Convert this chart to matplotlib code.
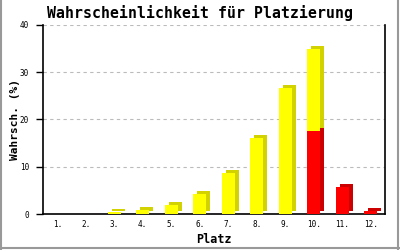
import numpy as np
import matplotlib
matplotlib.use('Agg')
import matplotlib.pyplot as plt
import matplotlib.transforms as mtrans
from matplotlib.lines import Line2D

# data
places = ['1.', '2.', '3.', '4.', '5.', '6.', '7.', '8.', '9.', '10.', '11.', '12.']
red    = [0, 0, 0, 0, 0, 0, 0, 0, 0, 17.6, 5.7, 0.6]
yellow = [0, 0.1, 0.36, 0.85, 1.9, 4.2, 8.7, 16.1, 26.7, 17.3, 0, 0]
yticks = [0, 10, 20, 30, 40]

font = 'DejaVu Sans Mono'
yel, yel_side = '#FFFF00', '#D2D200'
rd,  rd_side  = '#FF0000', '#CC0000'

fig = plt.figure(figsize=(4, 2.5), dpi=100)
ax  = fig.add_axes([0.1075, 0.144, 0.855, 0.756])

x = np.arange(len(places))
w = 0.46
shift = mtrans.ScaledTranslation(4/100, 3/100, fig.dpi_scale_trans)

red = np.array(red)
yellow = np.array(yellow)

# 3D side / top faces: same bars shifted up-right by a few pixels
for vals, base, side in [(red, np.zeros_like(red), rd_side), (yellow, red, yel_side)]:
    m = vals > 0
    bs = ax.bar(x[m], vals[m], w, bottom=base[m], color=side, linewidth=0, zorder=2)
    for b in bs:
        b.set_transform(ax.transData + shift)

# front faces
m = red > 0
ax.bar(x[m], red[m], w, color=rd, linewidth=0, zorder=3)
m = yellow > 0
ax.bar(x[m], yellow[m], w, bottom=red[m], color=yel, linewidth=0, zorder=3)

ax.set_xlim(-0.5, len(places) - 0.5)
ax.set_ylim(0, 40)
ax.set_xticks(x)
ax.set_xticklabels(places, family=font, fontsize=5.5)
ax.set_yticks(yticks)
ax.set_yticklabels([str(t) for t in yticks], family=font, fontsize=5.5)
ax.tick_params(axis='x', length=0, pad=4)
ax.tick_params(axis='y', length=5, width=1, pad=5)

ax.grid(axis='y', color='#BBBBBB', linestyle=(0, (3, 3)), linewidth=0.8, zorder=0)
ax.set_axisbelow(True)
ax.spines['top'].set_visible(False)
for s in ['left', 'bottom', 'right']:
    ax.spines[s].set_linewidth(1.2)

ax.set_xlabel('Platz', family=font, fontweight='bold', fontsize=8.5)
ax.set_ylabel('Wahrsch. (%)', family=font, fontweight='bold', fontsize=8)
ax.xaxis.set_label_coords(0.5, -0.1)
ax.yaxis.set_label_coords(-0.067, 0.5)

fig.text(0.5, 0.948, 'Wahrscheinlichkeit für Platzierung', ha='center', va='center',
         family=font, fontweight='bold', fontsize=10.7)

# gray frame of the image
for xs, ys in [([0.002, 0.002], [0, 1]), ([0, 1], [0.008, 0.008]), ([0.994, 0.994], [0, 1])]:
    fig.add_artist(Line2D(xs, ys, transform=fig.transFigure, color='#999999', linewidth=1.5))

fig.savefig('out.png', dpi=100)
